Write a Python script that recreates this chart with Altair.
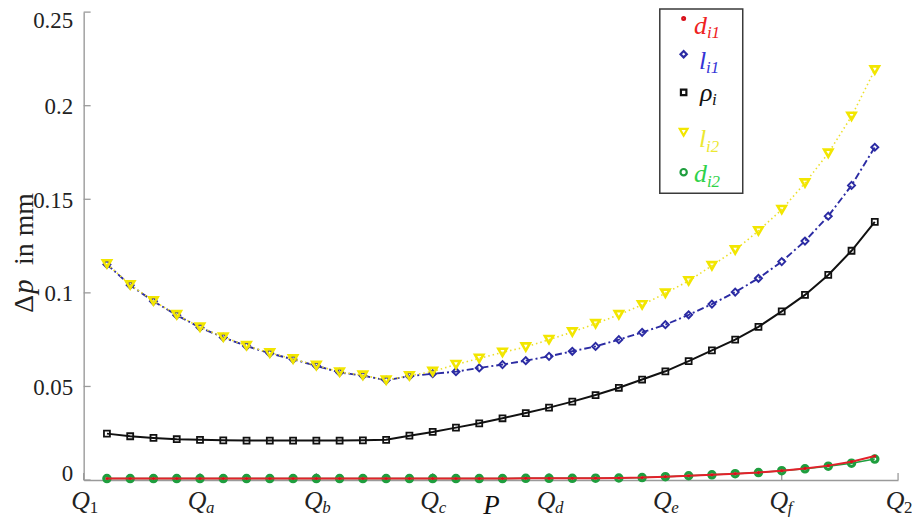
import altair as alt
import pandas as pd

# ---------------- data ----------------
P = [0.2, 0.4, 0.6, 0.8, 1.0, 1.2, 1.4, 1.6, 1.8, 2.0, 2.2, 2.4, 2.6, 2.8, 3.0, 3.2, 3.4,
     3.6, 3.8, 4.0, 4.2, 4.4, 4.6, 4.8, 5.0, 5.2, 5.4, 5.6, 5.8, 6.0, 6.2, 6.4, 6.6, 6.8]

d_i1 = [0.0008, 0.0008, 0.0008, 0.0008, 0.0008, 0.0008, 0.0008, 0.0008, 0.0008, 0.0008,
        0.0008, 0.0008, 0.0008, 0.0008, 0.0008, 0.0008, 0.0008, 0.0008, 0.0009, 0.0009,
        0.0009, 0.0010, 0.0011, 0.0013, 0.0018, 0.0023, 0.0028, 0.0034, 0.0040, 0.0050,
        0.0062, 0.0077, 0.0098, 0.0128]
l_i1 = [0.1152, 0.1041, 0.0955, 0.0881, 0.0815, 0.0762, 0.0716, 0.0677, 0.0645, 0.0610,
        0.0575, 0.0558, 0.0533, 0.0555, 0.0568, 0.0579, 0.0599, 0.0617, 0.0638, 0.0661,
        0.0688, 0.0714, 0.0750, 0.0789, 0.0830, 0.0883, 0.0940, 0.1004, 0.1078, 0.1167,
        0.1277, 0.1410, 0.1574, 0.1778]
rho_i = [0.0248, 0.0234, 0.0225, 0.0218, 0.0215, 0.0212, 0.0211, 0.0211, 0.0211, 0.0211,
         0.0211, 0.0212, 0.0215, 0.0237, 0.0257, 0.0280, 0.0303, 0.0330, 0.0358, 0.0387,
         0.0419, 0.0454, 0.0493, 0.0537, 0.0581, 0.0635, 0.0693, 0.0750, 0.0818, 0.0901,
         0.0989, 0.1096, 0.1225, 0.1379]
l_i2 = [0.1155, 0.1043, 0.0957, 0.0883, 0.0817, 0.0764, 0.0718, 0.0679, 0.0647, 0.0612,
        0.0577, 0.0560, 0.0534, 0.0557, 0.0580, 0.0617, 0.0650, 0.0682, 0.0711, 0.0750,
        0.0791, 0.0835, 0.0883, 0.0936, 0.0998, 0.1064, 0.1145, 0.1229, 0.1331, 0.1445,
        0.1587, 0.1746, 0.1943, 0.2191]
d_i2 = [0.0008, 0.0008, 0.0008, 0.0008, 0.0008, 0.0008, 0.0008, 0.0008, 0.0008, 0.0008,
        0.0008, 0.0008, 0.0008, 0.0008, 0.0008, 0.0008, 0.0008, 0.0008, 0.0009, 0.0009,
        0.0009, 0.0010, 0.0011, 0.0013, 0.0018, 0.0023, 0.0028, 0.0034, 0.0040, 0.0050,
        0.0060, 0.0074, 0.0090, 0.0112]

y_ticks = [0, 0.05, 0.1, 0.15, 0.2, 0.25]
x_ticks = [0, 1, 2, 3, 4, 5, 6, 7]
x_main = ["Q", "Q", "Q", "Q", "Q", "Q", "Q", "Q"]
x_sub = ["1", "a", "b", "c", "d", "e", "f", "2"]

leg_main = ["d", "l", "ρ", "l", "d"]
leg_sub = ["i1", "i1", "i", "i2", "i2"]

# ---------------- styling / layout ----------------
W, H = 818, 470
FONT = "Liberation Serif, DejaVu Serif, serif"
AX = "#9a9a9a"
xs = alt.Scale(domain=[0, 7], nice=False, zero=False)
ys = alt.Scale(domain=[0, 0.25], nice=False, zero=False)

x_axis = alt.Axis(labels=False, ticks=False, grid=False, domainColor=AX, domainWidth=1.4,
                  title="P", titleFont=FONT, titleFontStyle="italic", titleFontWeight="normal",
                  titleFontSize=27, titleColor="#111", titleX=409, titleY=34,
                  titleBaseline="alphabetic", titleAlign="center")
y_axis = alt.Axis(values=y_ticks, format="~g", ticks=False, tickSize=0, grid=False,
                  domainColor=AX, domainWidth=1.4, labelFont=FONT, labelFontSize=23,
                  labelColor="#222", labelPadding=11, title=None,
                  labelOffset=1, labelFlush=True, labelFlushOffset=4)


def X(f):
    return alt.X(f, type="quantitative", scale=xs, axis=x_axis)


def Y(f):
    return alt.Y(f, type="quantitative", scale=ys, axis=y_axis)


df = pd.DataFrame({"P": P, "d_i1": d_i1, "l_i1": l_i1, "rho_i": rho_i,
                   "l_i2": l_i2, "d_i2": d_i2})
base = alt.Chart(df)


def line(col, color, width, dash=None):
    kw = dict(color=color, strokeWidth=width)
    if dash:
        kw["strokeDash"] = dash
    return base.mark_line(**kw).encode(x=X("P"), y=Y(col))


def pts(col, color, shape, size, sw, filled=False):
    if filled:
        m = base.mark_point(shape=shape, size=size, filled=True, color=color, opacity=1)
    else:
        m = base.mark_point(shape=shape, size=size, filled=False, color=color,
                            strokeWidth=sw, opacity=1)
    return m.encode(x=X("P"), y=Y(col))


RED, BLUE, BLACK, YEL, GRN = "#e3212b", "#2b2ba3", "#111111", "#f2e600", "#1f9e3e"

layers = [
    line("d_i2", GRN, 1.5),
    pts("d_i2", GRN, "circle", 40, 3.2),
    line("d_i1", RED, 2.0),
    pts("d_i1", "#d8101a", "circle", 10, 1, filled=True),
    line("rho_i", BLACK, 2.0),
    pts("rho_i", BLACK, "square", 36, 1.8),
    line("l_i1", BLUE, 1.9, [7, 3, 2, 3]),
    pts("l_i1", BLUE, "diamond", 50, 1.9),
    line("l_i2", "#ecdf2a", 1.6, [1.5, 3]),
    pts("l_i2", YEL, "triangle-down", 70, 2.6),
]

# inward axis ticks
ytk = alt.Chart(pd.DataFrame({"v": y_ticks})).mark_rule(color=AX, strokeWidth=1.3).encode(
    y=Y("v"), x=alt.value(0), x2=alt.value(7))
xtk = alt.Chart(pd.DataFrame({"v": x_ticks})).mark_rule(color=AX, strokeWidth=1.3).encode(
    x=X("v"), y=alt.value(H), y2=alt.value(H - 7))

# x tick labels: Q with subscripts
xl = pd.DataFrame({"v": x_ticks, "m": x_main, "s": x_sub})
xlab_main = alt.Chart(xl).mark_text(font=FONT, fontStyle="italic", fontSize=26, align="center",
                                    baseline="alphabetic", dx=-3, color="#222").encode(
    x=X("v"), y=alt.value(499), text="m:N")
xl_dig = xl[xl["s"].isin(["1", "2"])]
xl_let = xl[~xl["s"].isin(["1", "2"])]
xlab_sub1 = alt.Chart(xl_dig).mark_text(font=FONT, fontSize=17, align="left",
                                        baseline="alphabetic", dx=6, color="#222").encode(
    x=X("v"), y=alt.value(503), text="s:N")
xlab_sub2 = alt.Chart(xl_let).mark_text(font=FONT, fontStyle="italic", fontSize=17, align="left",
                                        baseline="alphabetic", dx=6, color="#222").encode(
    x=X("v"), y=alt.value(503), text="s:N")

# y axis title  "Δp in mm"
ytitle = [
    alt.Chart(pd.DataFrame({"t": ["Δ"]})).mark_text(font=FONT, fontSize=28, angle=270,
        align="left", baseline="alphabetic", color="#222").encode(
        x=alt.value(-51), y=alt.value(302), text="t:N"),
    alt.Chart(pd.DataFrame({"t": ["p"]})).mark_text(font=FONT, fontSize=29, angle=270,
        fontStyle="italic", align="left", baseline="alphabetic", color="#222").encode(
        x=alt.value(-51), y=alt.value(283), text="t:N"),
    alt.Chart(pd.DataFrame({"t": ["in mm"]})).mark_text(font=FONT, fontSize=28, angle=270,
        align="left", baseline="alphabetic", color="#222").encode(
        x=alt.value(-51), y=alt.value(254), text="t:N"),
]

# legend (placed in data space)
box = alt.Chart(pd.DataFrame({"x1": [4.952], "x2": [5.665], "y1": [0.2516], "y2": [0.1532]})
                ).mark_rect(fill="white", stroke="#3a3a3a", strokeWidth=1.5).encode(
    x=X("x1"), x2="x2", y=Y("y1"), y2="y2")

leg = pd.DataFrame({
    "sx": [5.157] * 5,
    "sy": [0.2466, 0.2275, 0.2071, 0.1858, 0.1645],
    "shape": ["circle", "diamond", "square", "triangle-down", "circle"],
    "scol": ["#d8101a", BLUE, BLACK, YEL, GRN],
    "ssize": [8, 40, 30, 60, 40],
    "mx": [5.246, 5.289, 5.297, 5.289, 5.246],
    "my": [0.2383, 0.2197, 0.2027, 0.1777, 0.1590],
    "sbx": [5.357, 5.350, 5.400, 5.350, 5.357],
    "tcol": ["#ee2222", "#3434d6", "#111111", "#ece832", "#2fd24a"],
    "m": leg_main,
    "s": leg_sub,
})
leg["sby"] = leg["my"] - 0.0022
lc = alt.Chart(leg)
leg_sym = lc.mark_point(filled=False, strokeWidth=2.2, opacity=1).encode(
    x=X("sx"), y=Y("sy"), shape=alt.Shape("shape:N", scale=None),
    color=alt.Color("scol:N", scale=None), size=alt.Size("ssize:Q", scale=None))
leg_main_t = lc.mark_text(font=FONT, fontStyle="italic", fontSize=26, align="left",
                          baseline="alphabetic").encode(
    x=X("mx"), y=Y("my"), text="m:N", color=alt.Color("tcol:N", scale=None))
leg_sub_t = lc.mark_text(font=FONT, fontStyle="italic", fontSize=17, align="left",
                         baseline="alphabetic").encode(
    x=X("sbx"), y=Y("sby"), text="s:N", color=alt.Color("tcol:N", scale=None))

chart = alt.layer(
    ytk, xtk, *layers, xlab_main, xlab_sub1, xlab_sub2, *ytitle, box, leg_sym, leg_main_t, leg_sub_t
).properties(
    width=W, height=H,
    autosize=alt.AutoSizeParams(type="none"),
    padding={"left": 76, "top": 3, "right": 14, "bottom": 38},
    background="white",
).configure_view(stroke=None)

chart.save("out.html", embed_options={"renderer": "svg", "actions": False})
